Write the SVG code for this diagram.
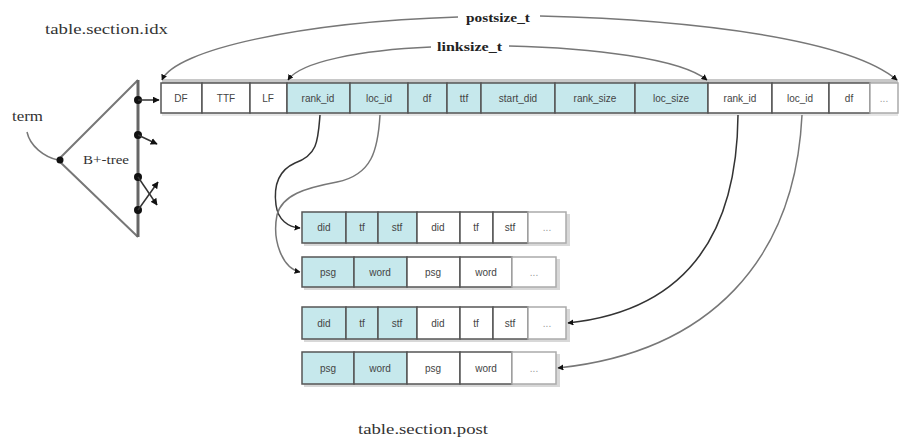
<svg xmlns="http://www.w3.org/2000/svg" width="901" height="439" viewBox="0 0 901 439">
<defs>
<marker id="ah" viewBox="0 0 10 10" refX="9" refY="5" markerWidth="6" markerHeight="6" orient="auto-start-reverse" markerUnits="userSpaceOnUse">
<path d="M0,0 L10,5 L0,10 z" fill="#111"/>
</marker>
<marker id="ahs" viewBox="0 0 10 10" refX="9" refY="5" markerWidth="7" markerHeight="7" orient="auto" markerUnits="userSpaceOnUse">
<path d="M0,0 L10,5 L0,10 z" fill="#111"/>
</marker>
</defs>
<style>
.c{fill:#fff;stroke:#555;stroke-width:1.5}
.h{fill:#c6e8ec;stroke:#555;stroke-width:1.5}
.sh{fill:#c8c8c8}
.t{font-family:"Liberation Sans",Arial,sans-serif;font-size:10px;fill:#444;text-anchor:middle}
.lbl{font-family:"Liberation Serif","Times New Roman",serif;font-size:14px;fill:#333}
.sz{font-family:"Liberation Serif","Times New Roman",serif;font-size:13px;font-weight:bold;fill:#222}
.ln{fill:none;stroke:#777;stroke-width:1.5}
.dk{fill:none;stroke:#333;stroke-width:1.5}
.tr{fill:none;stroke:#777;stroke-width:2}
.dot{fill:#111}
</style>
<rect width="901" height="439" fill="#fff"/>

<g id="labels">
<text class="lbl" x="45" y="34" textLength="123" lengthAdjust="spacingAndGlyphs">table.section.idx</text>
<text class="lbl" x="12" y="121" textLength="31" lengthAdjust="spacingAndGlyphs">term</text>
<text class="lbl" x="358" y="434" textLength="130" lengthAdjust="spacingAndGlyphs">table.section.post</text>
<text class="sz" x="466" y="22" textLength="64" lengthAdjust="spacingAndGlyphs">postsize_t</text>
<text class="sz" x="437" y="51" textLength="65" lengthAdjust="spacingAndGlyphs">linksize_t</text>
</g>

<g id="btree">
<path class="tr" d="M58,160 L138,80 M58,160 L138,237"/>
<path d="M138,80 L138,237" stroke="#666" stroke-width="3" fill="none"/>
<path class="ln" d="M27,132 C30,146 44,157 58,160"/>
<circle class="dot" cx="60" cy="160" r="3.5"/>
<text class="lbl" x="83" y="164" textLength="46" lengthAdjust="spacingAndGlyphs" style="font-size:12px">B+-tree</text>
<circle class="dot" cx="138" cy="100" r="4"/>
<circle class="dot" cx="138" cy="135" r="4"/>
<circle class="dot" cx="138" cy="177" r="4"/>
<circle class="dot" cx="138" cy="210" r="4"/>
<path class="dk" d="M138,100 L159,100" marker-end="url(#ahs)"/>
<path class="dk" d="M138,135 L157,144" marker-end="url(#ahs)"/>
<path class="dk" d="M138,177 L157,205" marker-end="url(#ahs)"/>
<path class="dk" d="M138,210 L158,182" marker-end="url(#ahs)"/>
</g>

<g id="table-idx">
<rect class="sh" x="162" y="79" width="736" height="5"/>
<rect x="162" y="113" width="736" height="3" fill="#e6e6e6"/>
<rect class="c" x="161" y="83" width="41" height="30"/><text class="t" x="181" y="102">DF</text>
<rect class="c" x="202" y="83" width="48" height="30"/><text class="t" x="226" y="102">TTF</text>
<rect class="c" x="250" y="83" width="37" height="30"/><text class="t" x="268" y="102">LF</text>
<rect class="h" x="287" y="83" width="63" height="30"/><text class="t" x="318" y="102">rank_id</text>
<rect class="h" x="350" y="83" width="58" height="30"/><text class="t" x="379" y="102">loc_id</text>
<rect class="h" x="408" y="83" width="39" height="30"/><text class="t" x="427" y="102">df</text>
<rect class="h" x="447" y="83" width="34" height="30"/><text class="t" x="464" y="102">ttf</text>
<rect class="h" x="481" y="83" width="74" height="30"/><text class="t" x="518" y="102">start_did</text>
<rect class="h" x="555" y="83" width="80" height="30"/><text class="t" x="595" y="102">rank_size</text>
<rect class="h" x="635" y="83" width="73" height="30"/><text class="t" x="671" y="102">loc_size</text>
<rect class="c" x="708" y="83" width="64" height="30"/><text class="t" x="740" y="102">rank_id</text>
<rect class="c" x="772" y="83" width="57" height="30"/><text class="t" x="800" y="102">loc_id</text>
<rect class="c" x="829" y="83" width="41" height="30"/><text class="t" x="849" y="102">df</text>
<rect class="c" x="870" y="83" width="28" height="30" style="stroke:#aaa"/><text class="t" x="884" y="102" style="fill:#999">...</text>
</g>

<g id="list-did-1">
<rect x="304" y="214" width="266" height="32" fill="#d8d8d8"/>
<rect class="h" x="302" y="212" width="44" height="31"/><text class="t" x="324" y="231">did</text>
<rect class="h" x="346" y="212" width="32" height="31"/><text class="t" x="362" y="231">tf</text>
<rect class="h" x="378" y="212" width="39" height="31"/><text class="t" x="397" y="231">stf</text>
<rect class="c" x="417" y="212" width="43" height="31"/><text class="t" x="438" y="231">did</text>
<rect class="c" x="460" y="212" width="33" height="31"/><text class="t" x="476" y="231">tf</text>
<rect class="c" x="493" y="212" width="35" height="31"/><text class="t" x="510" y="231">stf</text>
<rect class="c" x="528" y="212" width="38" height="31" style="stroke:#aaa"/><text class="t" x="547" y="231" style="fill:#999">...</text>
</g>

<g id="list-psg-1">
<rect x="304" y="259" width="256" height="31" fill="#d8d8d8"/>
<rect class="h" x="302" y="257" width="52" height="30"/><text class="t" x="328" y="276">psg</text>
<rect class="h" x="354" y="257" width="53" height="30"/><text class="t" x="380" y="276">word</text>
<rect class="c" x="407" y="257" width="53" height="30"/><text class="t" x="433" y="276">psg</text>
<rect class="c" x="460" y="257" width="52" height="30"/><text class="t" x="486" y="276">word</text>
<rect class="c" x="512" y="257" width="44" height="30" style="stroke:#aaa"/><text class="t" x="534" y="276" style="fill:#999">...</text>
</g>

<g id="list-did-2">
<rect x="304" y="309" width="266" height="33" fill="#d8d8d8"/>
<rect class="h" x="302" y="307" width="44" height="32"/><text class="t" x="324" y="327">did</text>
<rect class="h" x="346" y="307" width="32" height="32"/><text class="t" x="362" y="327">tf</text>
<rect class="h" x="378" y="307" width="39" height="32"/><text class="t" x="397" y="327">stf</text>
<rect class="c" x="417" y="307" width="43" height="32"/><text class="t" x="438" y="327">did</text>
<rect class="c" x="460" y="307" width="33" height="32"/><text class="t" x="476" y="327">tf</text>
<rect class="c" x="493" y="307" width="35" height="32"/><text class="t" x="510" y="327">stf</text>
<rect class="c" x="528" y="307" width="38" height="32" style="stroke:#aaa"/><text class="t" x="547" y="327" style="fill:#999">...</text>
</g>

<g id="list-psg-2">
<rect x="304" y="354" width="256" height="33" fill="#d8d8d8"/>
<rect class="h" x="302" y="352" width="52" height="32"/><text class="t" x="328" y="372">psg</text>
<rect class="h" x="354" y="352" width="53" height="32"/><text class="t" x="380" y="372">word</text>
<rect class="c" x="407" y="352" width="53" height="32"/><text class="t" x="433" y="372">psg</text>
<rect class="c" x="460" y="352" width="52" height="32"/><text class="t" x="486" y="372">word</text>
<rect class="c" x="512" y="352" width="44" height="32" style="stroke:#aaa"/><text class="t" x="534" y="372" style="fill:#999">...</text>
</g>

<g id="connectors">
<path class="ln" d="M458,17 C300,22 175,50 162,80" marker-end="url(#ah)"/>
<path class="ln" d="M540,16 C700,20 850,40 897,80" marker-end="url(#ah)"/>
<path class="ln" d="M431,47 C360,50 300,62 288,80" marker-end="url(#ah)"/>
<path class="ln" d="M509,46 C590,48 680,58 707,80" marker-end="url(#ah)"/>
<path class="dk" d="M320,115 C318,140 318,155 295,163 C275,172 274,190 276,205 C278,220 288,227 300,228" marker-end="url(#ah)"/>
<path class="ln" d="M380,115 C378,150 372,175 337,182 C305,188 282,195 277,215 C272,240 282,268 300,272" marker-end="url(#ah)"/>
<path class="dk" d="M738,115 C737,230 690,310 568,323" marker-end="url(#ah)"/>
<path class="ln" d="M802,115 C795,260 710,352 558,368" marker-end="url(#ah)"/>
</g>
</svg>
